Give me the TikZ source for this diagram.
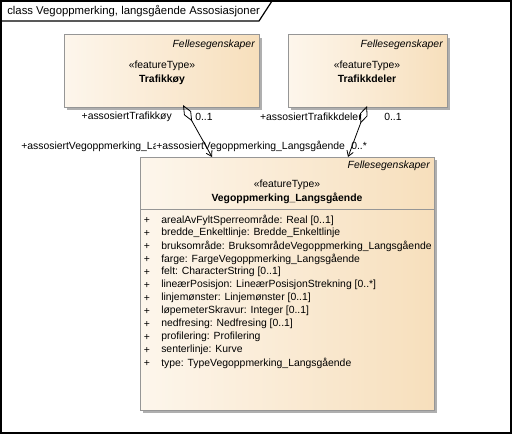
\documentclass[tikz,border=0pt]{standalone}
\usepackage{fontspec}
\setmainfont{Liberation Sans}
\usetikzlibrary{arrows.meta}

\definecolor{boxleft}{RGB}{253,246,236}
\definecolor{boxright}{RGB}{247,223,188}
\definecolor{boxline}{RGB}{150,150,150}
\definecolor{boxshade}{RGB}{175,175,175}

\tikzset{
  umlbox/.style={draw=boxline, left color=boxleft, right color=boxright, line width=0.75},
  umlshade/.style={fill=boxshade, draw=none},
  umltext/.style={inner sep=0.75pt, font=\fontsize{7.8}{9}\selectfont},
  umlattr/.style={umltext, anchor=west},
  assoc/.style={line width=0.6, {Diamond[open, length=14pt, width=6pt]}-{Straight Barb[length=4pt, width=5pt]}}
}

\begin{document}
\begin{tikzpicture}[x=0.75pt,y=0.75pt,yscale=-1,xscale=1]
\useasboundingbox (0,0) rectangle (513,435);

%Frame
\draw [line width=0.9] (1,1) rectangle (511,433) ;
\draw [line width=0.9] (1,21) -- (259,21) -- (272,1) ;
% Text Node
\node [umltext, anchor=west, font=\fontsize{8.5}{10}\selectfont] (title) at (6,11) {class Vegoppmerking, langsgående Assosiasjoner};

%Shape: Rectangle [Trafikkøy]
\fill [umlshade] (67,38) rectangle (262,110) ;
\draw [umlbox] (64,35) rectangle (259,107) ;
\node [umltext, anchor=east, font=\fontsize{7.8}{9}\selectfont\itshape] (koyPkg) at (256,45) {Fellesegenskaper};
\node [umltext] (koyStereo) at (162,66) {«featureType»};
\node [umltext, font=\fontsize{7.8}{9}\selectfont\bfseries] (koyName) at (162,80) {Trafikkøy};

%Shape: Rectangle [Trafikkdeler]
\fill [umlshade] (291,38) rectangle (450,110) ;
\draw [umlbox] (288,35) rectangle (447,107) ;
\node [umltext, anchor=east, font=\fontsize{7.8}{9}\selectfont\itshape] (delerPkg) at (444,45) {Fellesegenskaper};
\node [umltext] (delerStereo) at (367,66) {«featureType»};
\node [umltext, font=\fontsize{7.8}{9}\selectfont\bfseries] (delerName) at (367,79) {Trafikkdeler};

%Shape: Rectangle [Vegoppmerking_Langsgående]
\fill [umlshade] (143,160) rectangle (437,413) ;
\draw [umlbox] (140,157) rectangle (434,410) ;
\draw [boxline, line width=0.75] (140,209) -- (434,209) ;
\node [umltext, anchor=east, font=\fontsize{7.8}{9}\selectfont\itshape] (vegPkg) at (431,166) {Fellesegenskaper};
\node [umltext] (vegStereo) at (287,185) {«featureType»};
\node [umltext, font=\fontsize{7.8}{9}\selectfont\bfseries] (vegName) at (287,198) {Vegoppmerking\_Langsgående};

% Attributes
\foreach \attr [count=\i from 0] in {%
  arealAvFyltSperreområde: Real [0..1],
  bredde\_Enkeltlinje: Bredde\_Enkeltlinje,
  bruksområde: BruksområdeVegoppmerking\_Langsgående,
  farge: FargeVegoppmerking\_Langsgående,
  felt: CharacterString [0..1],
  lineærPosisjon: LineærPosisjonStrekning [0..*],
  linjemønster: Linjemønster [0..1],
  løpemeterSkravur: Integer [0..1],
  nedfresing: Nedfresing [0..1],
  profilering: Profilering,
  senterlinje: Kurve,
  type: TypeVegoppmerking\_Langsgående}
{
  \node [umltext] (plus\i) at (147,220+13*\i) {+};
  \node [umlattr] (attr\i) at (160,220+13*\i) {\attr};
}

% Connector ends
\coordinate (koyEnd) at (183,105) ;
\coordinate (vegEndA) at (212,157) ;
\coordinate (delerEnd) at (367,106) ;
\coordinate (vegEndB) at (348,157) ;

%Straight Lines [Trafikkøy]
\draw [assoc] (koyEnd) -- (vegEndA) ;
%Straight Lines [Trafikkdeler]
\draw [assoc] (delerEnd) -- (vegEndB) ;

% Text Node
\node [umltext, anchor=east] (koyRole) at (173,117) {+assosiertTrafikkøy};
\node [umltext, anchor=west] (koyMult) at (194,117) {0..1};
\begin{scope}
\clip (0,135) rectangle (155,157) ;
\node [umltext, anchor=west] (vegRoleA) at (20,146) {+assosiertVegoppmerking\_Langsgående};
\end{scope}
\node [umltext, anchor=west] (vegRoleB) at (155,146) {+assosiertVegoppmerking\_Langsgående};
\node [umltext, anchor=east] (delerRole) at (363,117) {+assosiertTrafikkdeler};
\node [umltext, anchor=west] (delerMult) at (383,117) {0..1};
\node [umltext, anchor=west] (vegMultB) at (350,146) {0..*};

\end{tikzpicture}
\end{document}
